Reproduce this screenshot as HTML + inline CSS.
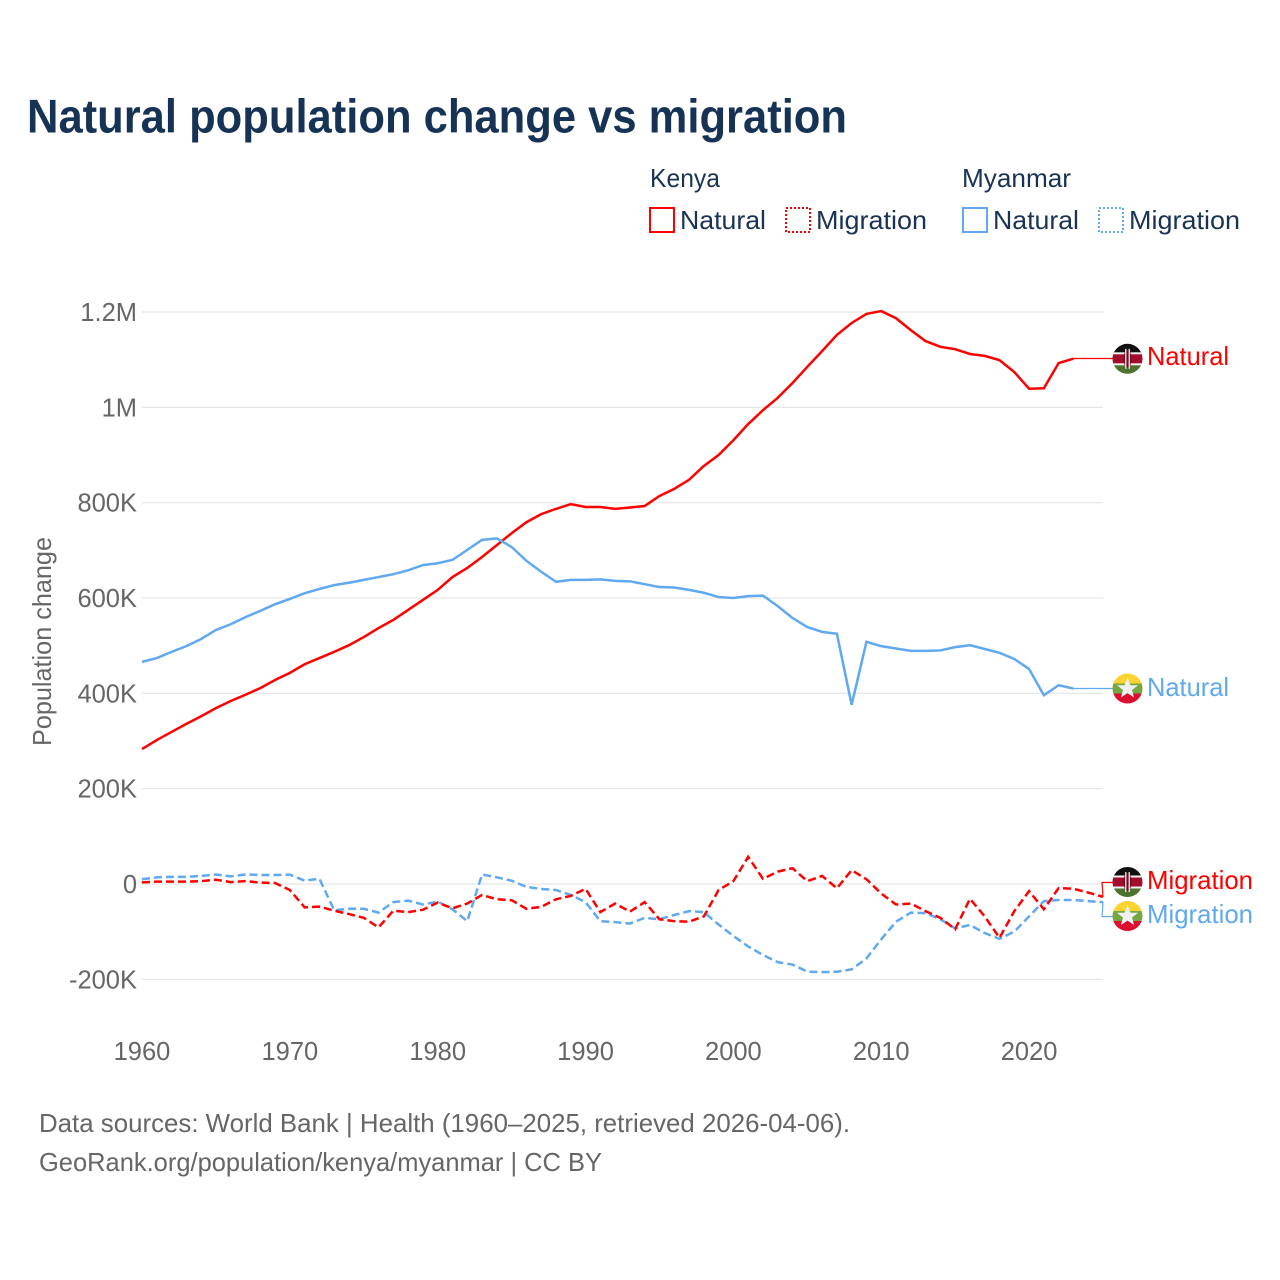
<!DOCTYPE html>
<html lang="en">
<head>
<meta charset="utf-8">
<title>Natural population change vs migration</title>
<style>
html,body{margin:0;padding:0;background:#fff;}
svg{display:block;}
text{font-family:"Liberation Sans",sans-serif;}
</style>
</head>
<body>
<svg id="chart" xmlns="http://www.w3.org/2000/svg" width="1280" height="1280" viewBox="0 0 1280 1280">
  <defs>
    <clipPath id="flag-clip"><circle cx="0" cy="0" r="15"></circle></clipPath>
    <g id="flag-kenya">
      <g clip-path="url(#flag-clip)">
        <rect x="-16" y="-16" width="32" height="11" fill="#111"></rect>
        <rect x="-16" y="-5.5" width="32" height="11" fill="#a30d2d"></rect>
        <rect x="-16" y="-6.5" width="32" height="2" fill="#f2f2f2"></rect>
        <rect x="-16" y="4.5" width="32" height="2" fill="#f2f2f2"></rect>
        <rect x="-16" y="6.5" width="32" height="10" fill="#4e7330"></rect>
        <ellipse cx="0" cy="0" rx="4" ry="9" fill="#7a0a22"></ellipse>
        <rect x="-2.4" y="-10" width="1.3" height="20" fill="#eee"></rect>
        <rect x="1.1" y="-10" width="1.3" height="20" fill="#eee"></rect>
      </g>
    </g>
    <g id="flag-myanmar">
      <g clip-path="url(#flag-clip)">
        <rect x="-16" y="-16" width="32" height="11" fill="#fdd331"></rect>
        <rect x="-16" y="-5" width="32" height="10" fill="#75a843"></rect>
        <rect x="-16" y="5" width="32" height="11" fill="#dc0d2e"></rect>
        <polygon points="0,-11 2.9,-3.3 10.5,-3.3 4.5,1.6 6.6,9 0,4.6 -6.6,9 -4.5,1.6 -10.5,-3.3 -2.9,-3.3" fill="#f0f0f0"></polygon>
      </g>
    </g>
  </defs>

  <text x="27" y="132.5" font-size="47" font-weight="700" fill="#163355" textLength="820" lengthAdjust="spacingAndGlyphs">Natural population change vs migration</text>

  <g>
    <text x="650" y="187" font-size="26" fill="#1a3353" textLength="70" lengthAdjust="spacingAndGlyphs">Kenya</text>
    <text x="962" y="187" font-size="26" fill="#1a3353" textLength="109" lengthAdjust="spacingAndGlyphs">Myanmar</text>
    <rect x="650" y="208" width="24" height="24" fill="none" stroke="#ff0000" stroke-width="2"></rect>
    <text x="680" y="229" font-size="26" fill="#1a3353" textLength="86" lengthAdjust="spacingAndGlyphs">Natural</text>
    <rect x="786" y="208" width="24" height="24" fill="none" stroke="#ff0000" stroke-width="2" stroke-dasharray="2 2"></rect>
    <text x="816" y="229" font-size="26" fill="#1a3353" textLength="111" lengthAdjust="spacingAndGlyphs">Migration</text>
    <rect x="963" y="208" width="24" height="24" fill="none" stroke="#60a8f0" stroke-width="2"></rect>
    <text x="993" y="229" font-size="26" fill="#1a3353" textLength="86" lengthAdjust="spacingAndGlyphs">Natural</text>
    <rect x="1099" y="208" width="24" height="24" fill="none" stroke="#60a8f0" stroke-width="2" stroke-dasharray="2 2"></rect>
    <text x="1129" y="229" font-size="26" fill="#1a3353" textLength="111" lengthAdjust="spacingAndGlyphs">Migration</text>
  </g>

  <g id="grid"></g>
  <g id="y-axis"></g>
  <g id="x-axis"></g>
  <text transform="translate(51,641.5) rotate(-90)" text-anchor="middle" font-size="26" fill="#666666" textLength="209" lengthAdjust="spacingAndGlyphs">Population change</text>

  <g id="series"></g>
  <g id="leaders"></g>

  <use href="#flag-kenya" x="1127.5" y="358.8"></use>
  <use href="#flag-myanmar" x="1127.5" y="688.5"></use>
  <use href="#flag-kenya" x="1127.5" y="882"></use>
  <use href="#flag-myanmar" x="1127.5" y="916"></use>

  <text x="1147" y="365" font-size="26" fill="#ff0000" textLength="82" lengthAdjust="spacingAndGlyphs">Natural</text>
  <text x="1147" y="696" font-size="26" fill="#60a8f0" textLength="82" lengthAdjust="spacingAndGlyphs">Natural</text>
  <text x="1147" y="889" font-size="26" fill="#ff0000" textLength="106" lengthAdjust="spacingAndGlyphs">Migration</text>
  <text x="1147" y="923" font-size="26" fill="#60a8f0" textLength="106" lengthAdjust="spacingAndGlyphs">Migration</text>

  <text x="39" y="1132" font-size="26" fill="#666666" textLength="811" lengthAdjust="spacingAndGlyphs">Data sources: World Bank | Health (1960–2025, retrieved 2026-04-06).</text>
  <text x="39" y="1171" font-size="26" fill="#666666" textLength="563" lengthAdjust="spacingAndGlyphs">GeoRank.org/population/kenya/myanmar | CC BY</text>
</svg>

<script>
// Values are in thousands of people; the first value is for startYear.
const startYear = 1960;
const xTickYears = [1960, 1970, 1980, 1990, 2000, 2010, 2020];
const yTickValues = [1200, 1000, 800, 600, 400, 200, 0, -200];
const yTickLabels = ['1.2M', '1M', '800K', '600K', '400K', '200K', '0', '-200K'];

const kenyaNatural = [283,302,319,336,352,369,384,397,411,428,443,461,474,487,501,518,537,554,575,596,617,644,663,686,711,736,759,776,787,797,791,791,787,790,793,814,829,848,877,900,931,965,994,1020,1051,1085,1118,1152,1177,1196,1202,1187,1162,1139,1127,1122,1112,1108,1099,1074,1039,1040,1093,1102];
const myanmarNatural = [466,474,487,499,514,533,545,560,573,587,598,610,619,627,632,638,644,650,658,669,673,680,701,722,725,707,678,655,634,638,638,639,636,635,629,623,622,617,611,602,600,604,605,583,558,539,529,525,376,508,499,494,489,489,490,497,501,493,485,472,451,396,417,410];
const kenyaMigration = [3.5,5,5,5,6,9,4,6,3,2,-12.6,-49,-47.5,-56,-63,-71,-91,-56,-59,-54,-39,-51,-41,-23,-32,-34,-52,-48,-32,-25,-10,-59,-41,-58,-38,-74,-78,-79,-68,-12.6,6,57,11,26,33,6,17,-9,29,10,-20,-43,-41,-57,-71,-95,-31,-68,-113,-57,-15,-53,-8.4,-10,-18,-27];
const myanmarMigration = [10,14,15,15,17,20,16,20,19,19,19.5,7,11,-55,-52,-52,-60,-38,-35,-43,-37,-53,-78,20,14,7,-6,-10.5,-12.6,-23,-38,-78,-80,-83,-71,-74,-65,-57,-59,-85,-109,-131,-149,-164,-169,-184,-185,-184,-179,-156,-116,-79,-60,-61,-74,-93,-86,-103,-115,-100,-68,-36,-33.5,-33.5,-36,-38];

const NS = 'http://www.w3.org/2000/svg';
function xScale(year) { return 142 + (year - 1960) * (1103 - 142) / 65; }
function yScale(value) { return 884 - value * 95.33 / 200; }
function make(tag, parentId) {
  const el = document.createElementNS(NS, tag);
  document.getElementById(parentId).appendChild(el);
  return el;
}

yTickValues.forEach(function (v, i) {
  const grid = make('line', 'grid');
  
  
  grid.setAttribute('x1', 142);
  grid.setAttribute('x2', 1103);
  grid.setAttribute('y1', yScale(v));
  grid.setAttribute('y2', yScale(v));
  grid.setAttribute('stroke', '#e6e6e6');
  grid.setAttribute('stroke-width', '1.2');

  const label = make('text', 'y-axis');
  
  
  label.setAttribute('x', 137);
  label.setAttribute('y', yScale(v) + 9);
  label.setAttribute('text-anchor', 'end');
  label.setAttribute('font-size', '25.5');
  label.setAttribute('fill', '#666666');
  label.textContent = yTickLabels[i];
});

xTickYears.forEach(function (year) {
  const label = make('text', 'x-axis');
  
  
  label.setAttribute('x', xScale(year));
  label.setAttribute('y', 1060);
  label.setAttribute('text-anchor', 'middle');
  label.setAttribute('font-size', '25.5');
  label.setAttribute('fill', '#666666');
  label.textContent = String(year);
});

function seriesPoints(values) {
  return values.map(function (v, i) {
    return xScale(startYear + i).toFixed(2) + ',' + yScale(v).toFixed(2);
  }).join(' ');
}

const kenyaNaturalLine = make('polyline', 'series');


kenyaNaturalLine.setAttribute('points', seriesPoints(kenyaNatural));
kenyaNaturalLine.setAttribute('fill', 'none');
kenyaNaturalLine.setAttribute('stroke', '#ff0000');
kenyaNaturalLine.setAttribute('stroke-width', '2.5');

const myanmarNaturalLine = make('polyline', 'series');


myanmarNaturalLine.setAttribute('points', seriesPoints(myanmarNatural));
myanmarNaturalLine.setAttribute('fill', 'none');
myanmarNaturalLine.setAttribute('stroke', '#60a8f0');
myanmarNaturalLine.setAttribute('stroke-width', '2.5');

const myanmarMigrationLine = make('polyline', 'series');


myanmarMigrationLine.setAttribute('points', seriesPoints(myanmarMigration));
myanmarMigrationLine.setAttribute('fill', 'none');
myanmarMigrationLine.setAttribute('stroke', '#60a8f0');
myanmarMigrationLine.setAttribute('stroke-width', '2.5');
myanmarMigrationLine.setAttribute('stroke-dasharray', '8 4');

const kenyaMigrationLine = make('polyline', 'series');


kenyaMigrationLine.setAttribute('points', seriesPoints(kenyaMigration));
kenyaMigrationLine.setAttribute('fill', 'none');
kenyaMigrationLine.setAttribute('stroke', '#ff0000');
kenyaMigrationLine.setAttribute('stroke-width', '2.5');
kenyaMigrationLine.setAttribute('stroke-dasharray', '8 4');

function leaderPoints(values, labelY) {
  const lastIndex = values.length - 1;
  const lastX = xScale(startYear + lastIndex);
  const lastY = yScale(values[lastIndex]);
  const elbowX = lastX < 1090 ? lastX : lastX - 1;
  return lastX + ',' + lastY + ' ' + elbowX + ',' + labelY + ' 1113,' + labelY;
}

const leaderKenyaNatural = make('polyline', 'leaders');


leaderKenyaNatural.setAttribute('points', leaderPoints(kenyaNatural, 358.5));
leaderKenyaNatural.setAttribute('fill', 'none');
leaderKenyaNatural.setAttribute('stroke', '#ff0000');
leaderKenyaNatural.setAttribute('stroke-width', '1.2');

const leaderMyanmarNatural = make('polyline', 'leaders');


leaderMyanmarNatural.setAttribute('points', leaderPoints(myanmarNatural, 688.5));
leaderMyanmarNatural.setAttribute('fill', 'none');
leaderMyanmarNatural.setAttribute('stroke', '#60a8f0');
leaderMyanmarNatural.setAttribute('stroke-width', '1.2');

const leaderKenyaMigration = make('polyline', 'leaders');


leaderKenyaMigration.setAttribute('points', leaderPoints(kenyaMigration, 882.5));
leaderKenyaMigration.setAttribute('fill', 'none');
leaderKenyaMigration.setAttribute('stroke', '#ff0000');
leaderKenyaMigration.setAttribute('stroke-width', '1.2');

const leaderMyanmarMigration = make('polyline', 'leaders');


leaderMyanmarMigration.setAttribute('points', leaderPoints(myanmarMigration, 916.5));
leaderMyanmarMigration.setAttribute('fill', 'none');
leaderMyanmarMigration.setAttribute('stroke', '#60a8f0');
leaderMyanmarMigration.setAttribute('stroke-width', '1.2');
</script>
</body>
</html>
